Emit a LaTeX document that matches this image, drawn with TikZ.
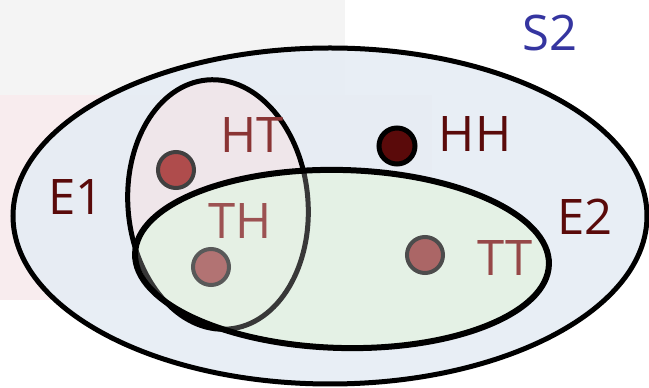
\documentclass[tikz,border=0pt]{standalone}
\usepackage{fontspec}
\setmainfont{Open Sans}
\definecolor{darkred}{HTML}{5A0A0A}
\definecolor{softred}{HTML}{8A3434}
\definecolor{sblue}{HTML}{3535A0}
\definecolor{outerfill}{HTML}{E6EDF4}
\definecolor{efill}{HTML}{EFE6EA}
\definecolor{gfill}{HTML}{E4F2E4}
\definecolor{bggrey}{HTML}{F4F4F4}
\definecolor{bgpink}{HTML}{F8ECEE}
\begin{document}
\begin{tikzpicture}[x=1pt,y=1pt,
  lbl/.style={font=\fontsize{49}{49}\selectfont, inner sep=0pt, anchor=center},
  softdot/.style={circle, minimum size=36pt, inner sep=0pt, draw=black!75, line width=4pt, fill=red!55!black!70},
  harddot/.style={circle, minimum size=36pt, inner sep=0pt, draw=black, line width=5pt, fill=darkred}]
\useasboundingbox (0,0) rectangle (649,388);
\fill[white] (0,0) rectangle (649,388);
\fill[bggrey] (0,293) rectangle (345,388);
\fill[bgpink] (0,88) rectangle (432,293);
% outer set
\fill[outerfill, opacity=0.9] (330,172) ellipse [x radius=317, y radius=168];
\draw[line width=5pt] (330,172) ellipse [x radius=317, y radius=168];
% E1 fill
\fill[efill] (218,183.5) ellipse [x radius=90, y radius=125, rotate=5];
% E2 fill
\fill[gfill, opacity=0.9] (342,129) ellipse [x radius=207, y radius=89, rotate=-1.5];
% E1 outline: black outside E2, grey inside E2
\begin{scope}
  \begin{pgfinterruptboundingbox}
  \clip (342,129) ellipse [x radius=207, y radius=89, rotate=-1.5] (-10,-10) rectangle (700,400);
  \end{pgfinterruptboundingbox}
  \draw[line width=5pt] (218,183.5) ellipse [x radius=90, y radius=125, rotate=5];
\end{scope}
\begin{scope}
  \clip (342,129) ellipse [x radius=207, y radius=89, rotate=-1.5];
  \draw[line width=5pt, black!78] (218,183.5) ellipse [x radius=90, y radius=125, rotate=5];
\end{scope}
% E2 outline
\draw[line width=6pt] (342,129) ellipse [x radius=207, y radius=89, rotate=-1.5];
% points
\node[softdot] (dHT) at (176,218) {};
\node[softdot, draw=black!65, fill=red!45!black!55] (dTH) at (211,121) {};
\node[softdot, draw=black!70, fill=red!45!black!60] (dTT) at (425,133) {};
\node[harddot] (dHH) at (397,242) {};
% labels
\node[lbl, text=softred] (tHT) at (252,253) {HT};
\node[lbl, text=softred!85] (tTH) at (240,167) {TH};
\node[lbl, text=softred!90] (tTT) at (505,130) {TT};
\node[lbl, text=darkred] (tHH) at (475,254) {HH};
\node[lbl, text=darkred] (tE1) at (76,191) {E1};
\node[lbl, text=darkred] (tE2) at (585,171) {E2};
\node[lbl, text=sblue] (tS2) at (550,355) {S2};
\end{tikzpicture}
\end{document}
